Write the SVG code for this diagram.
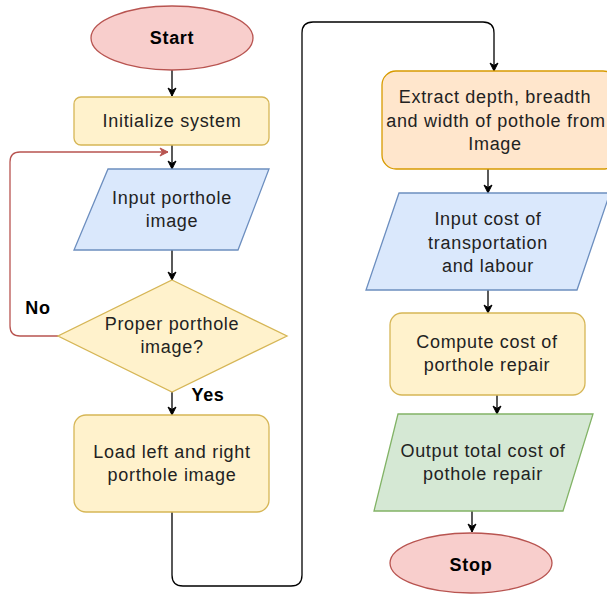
<svg xmlns="http://www.w3.org/2000/svg" width="607" height="594" viewBox="0 0 607 594">
<defs>
<marker id="ah" markerWidth="10" markerHeight="10" refX="9" refY="5" orient="auto" markerUnits="userSpaceOnUse"><path d="M1,1 L9,5 L1,9 L3.5,5 Z" fill="#000" stroke="#000" stroke-width="1"/></marker>
<marker id="ahr" markerWidth="10" markerHeight="10" refX="9" refY="5" orient="auto" markerUnits="userSpaceOnUse"><path d="M1,1 L9,5 L1,9 L3.5,5 Z" fill="#b85450" stroke="#b85450" stroke-width="1"/></marker>
</defs>
<style>
text{font-family:"Liberation Sans",Arial,sans-serif;font-size:18px;letter-spacing:0.7px;fill:#222;text-anchor:middle;dominant-baseline:central}
.b{font-weight:bold;fill:#000}
.term{fill:#f8cecc;stroke:#b85450;stroke-width:1.3}
.proc{fill:#fff2cc;stroke:#d6b656;stroke-width:1.3}
.io{fill:#dae8fc;stroke:#6c8ebf;stroke-width:1.3}
.out{fill:#d5e8d4;stroke:#82b366;stroke-width:1.3}
.ext{fill:#ffe6cc;stroke:#d79b00;stroke-width:1.3}
.c{fill:none;stroke:#000;stroke-width:1.3;marker-end:url(#ah)}
.cr{fill:none;stroke:#b85450;stroke-width:1.3;marker-end:url(#ahr)}
</style>
<rect width="607" height="594" fill="#fff"/>
<g id="connectors">
<path class="c" d="M172,70 V96"/>
<path class="c" d="M172,145 V169"/>
<path class="c" d="M172,250 V280"/>
<path class="c" d="M172,392 V415"/>
<path class="cr" d="M58,336 H20 Q10,336 10,326 V162 Q10,152 20,152 H168"/>
<path class="c" d="M172,512 V575 Q172,586 183,586 H291 Q302,586 302,575 V33 Q302,22 313,22 H483 Q494,22 494,33 V71"/>
<path class="c" d="M488,169 V193"/>
<path class="c" d="M488,290 V313"/>
<path class="c" d="M497,395 V414"/>
<path class="c" d="M472,511 V532"/>
</g>
<g id="start"><ellipse class="term" cx="172" cy="38" rx="81" ry="32"/><text class="b" x="172" y="38">Start</text></g>
<g id="init"><rect class="proc" x="74" y="97" width="195" height="48" rx="7"/><text x="172" y="121">Initialize system</text></g>
<g id="input"><polygon class="io" points="108,169 269,169 238,250 74,250"/><text x="172" y="198">Input porthole</text><text x="172" y="221">image</text></g>
<g id="decision"><polygon class="proc" points="172,280 287,336 172,392 58,336"/><text x="172" y="324">Proper porthole</text><text x="172" y="347">image?</text></g>
<g id="load"><rect class="proc" x="74" y="415" width="195" height="97" rx="12"/><text x="172" y="452">Load left and right</text><text x="172" y="475">porthole image</text></g>
<g id="extract"><rect class="ext" x="382" y="71" width="235" height="98" rx="14"/><text x="495" y="97">Extract depth, breadth</text><text x="496" y="121">and width of pothole from</text><text x="495" y="144">Image</text></g>
<g id="cost"><polygon class="io" points="399,193 610,193 577,290 366,290"/><text x="488" y="219">Input cost of</text><text x="488" y="243">transportation</text><text x="488" y="266">and labour</text></g>
<g id="compute"><rect class="proc" x="390" y="313" width="195" height="82" rx="12"/><text x="487" y="342">Compute cost of</text><text x="487" y="365">porthole repair</text></g>
<g id="output"><polygon class="out" points="398,414 593,414 563,511 374,511"/><text x="483" y="451">Output total cost of</text><text x="483" y="474">pothole repair</text></g>
<g id="stop"><ellipse class="term" cx="471" cy="563" rx="81" ry="30"/><text class="b" x="471" y="565">Stop</text></g>
<g id="labels"><text class="b" x="38" y="308">No</text><text class="b" x="208" y="395">Yes</text></g>
</svg>
